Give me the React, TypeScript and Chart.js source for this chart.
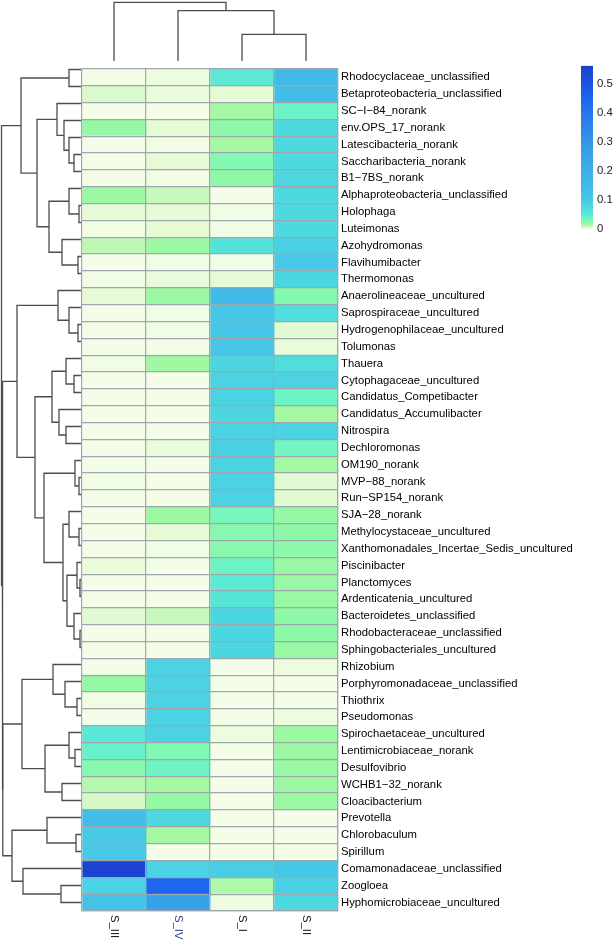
import React, { useEffect, useRef } from 'react';
import { Chart, registerables } from 'chart.js';

Chart.register(...registerables);

// ---------------- data ----------------
const rowNames = [
  'Rhodocyclaceae_unclassified', 'Betaproteobacteria_unclassified', 'SC\u2212I\u221284_norank', 'env.OPS_17_norank',
  'Latescibacteria_norank', 'Saccharibacteria_norank', 'B1\u22127BS_norank', 'Alphaproteobacteria_unclassified',
  'Holophaga', 'Luteimonas', 'Azohydromonas', 'Flavihumibacter', 'Thermomonas', 'Anaerolineaceae_uncultured',
  'Saprospiraceae_uncultured', 'Hydrogenophilaceae_uncultured', 'Tolumonas', 'Thauera', 'Cytophagaceae_uncultured',
  'Candidatus_Competibacter', 'Candidatus_Accumulibacter', 'Nitrospira', 'Dechloromonas', 'OM190_norank',
  'MVP\u221288_norank', 'Run\u2212SP154_norank', 'SJA\u221228_norank', 'Methylocystaceae_uncultured',
  'Xanthomonadales_Incertae_Sedis_uncultured', 'Piscinibacter', 'Planctomyces', 'Ardenticatenia_uncultured',
  'Bacteroidetes_unclassified', 'Rhodobacteraceae_unclassified', 'Sphingobacteriales_uncultured', 'Rhizobium',
  'Porphyromonadaceae_unclassified', 'Thiothrix', 'Pseudomonas', 'Spirochaetaceae_uncultured',
  'Lentimicrobiaceae_norank', 'Desulfovibrio', 'WCHB1\u221232_norank', 'Cloacibacterium', 'Prevotella',
  'Chlorobaculum', 'Spirillum', 'Comamonadaceae_unclassified', 'Zoogloea', 'Hyphomicrobiaceae_uncultured',
];

const colNames = ['S_III', 'S_IV', 'S_I', 'S_II'];

const valuesS_III = [
  0.000, 0.006, 0.000, 0.020, 0.000, 0.000, 0.000, 0.018, 0.004, 0.001,
  0.011, 0.000, 0.001, 0.004, 0.000, 0.000, 0.000, 0.001, 0.000, 0.000,
  0.000, 0.000, 0.000, 0.000, 0.001, 0.000, 0.000, 0.000, 0.000, 0.003,
  0.000, 0.000, 0.005, 0.000, 0.000, 0.000, 0.020, 0.001, 0.000, 0.055,
  0.042, 0.025, 0.013, 0.007, 0.140, 0.100, 0.100, 0.550, 0.085, 0.120,
];
const valuesS_IV = [
  0.002, 0.003, 0.000, 0.004, 0.001, 0.004, 0.001, 0.009, 0.004, 0.004,
  0.018, 0.001, 0.003, 0.018, 0.001, 0.001, 0.000, 0.017, 0.000, 0.000,
  0.000, 0.000, 0.003, 0.000, 0.000, 0.000, 0.018, 0.004, 0.001, 0.000,
  0.000, 0.000, 0.009, 0.000, 0.000, 0.085, 0.085, 0.085, 0.085, 0.085,
  0.028, 0.037, 0.016, 0.020, 0.075, 0.016, 0.000, 0.085, 0.450, 0.270,
];
const valuesS_I = [
  0.050, 0.004, 0.016, 0.023, 0.016, 0.027, 0.022, 0.000, 0.001, 0.001,
  0.060, 0.001, 0.004, 0.150, 0.110, 0.110, 0.115, 0.080, 0.085, 0.085,
  0.080, 0.085, 0.090, 0.085, 0.085, 0.085, 0.032, 0.025, 0.025, 0.037,
  0.050, 0.058, 0.080, 0.080, 0.080, 0.000, 0.000, 0.000, 0.000, 0.002,
  0.000, 0.000, 0.000, 0.000, 0.000, 0.000, 0.000, 0.095, 0.014, 0.002,
];
const valuesS_II = [
  0.150, 0.135, 0.040, 0.075, 0.075, 0.075, 0.077, 0.075, 0.075, 0.075,
  0.090, 0.100, 0.080, 0.026, 0.070, 0.005, 0.003, 0.070, 0.085, 0.037,
  0.016, 0.085, 0.035, 0.016, 0.005, 0.005, 0.020, 0.023, 0.023, 0.019,
  0.019, 0.019, 0.022, 0.023, 0.019, 0.002, 0.000, 0.000, 0.002, 0.018,
  0.018, 0.019, 0.018, 0.018, 0.000, 0.000, 0.000, 0.110, 0.090, 0.075,
];

const legendTicks = [0, 0.1, 0.2, 0.3, 0.4, 0.5];
const legendMax = 0.563;

// hclust-style merges: negative = leaf (-(index+1)), positive = earlier merge (1-based); third = height
const rowMerges = [
  [-1, -2, 13], [-6, -7, 8], [-5, 2, 13], [-4, 3, 18], [-3, 4, 25],
  [-9, -10, 3], [-8, 6, 13], [-12, -13, 4], [-11, 8, 20], [7, 9, 33],
  [5, 10, 45], [1, 11, 61], [-16, -17, 4], [-15, 13, 13], [-14, 14, 24],
  [-19, -20, 8], [-18, 16, 16], [-22, -23, 16], [-21, 18, 23], [17, 19, 30],
  [-25, -26, 3], [-24, 21, 7], [-28, -29, 3], [-27, 23, 13], [-31, -32, 2],
  [-30, 25, 5], [-34, -35, 2], [-33, 27, 8], [26, 28, 15], [24, 29, 19],
  [22, 30, 38], [20, 31, 47], [15, 32, 65], [-38, -39, 5], [-37, 34, 17],
  [-36, 35, 29], [-41, -42, 7], [-40, 37, 13], [-43, -44, 20], [38, 39, 37],
  [36, 40, 60], [-46, -47, 6], [-45, 42, 35], [-49, -50, 21], [-48, 44, 59],
  [43, 45, 70], [41, 46, 79.2], [33, 47, 79.7], [12, 48, 80.5],
];
const colMerges = [
  [-3, -4, 26.7], [-2, 1, 50.3], [-1, 2, 58.7],
];

// ---------------- styles ----------------
const FONT = '"Liberation Sans", Arial, Helvetica, sans-serif';
const GRID = '#9ea7ac';
const TREE = '#4d4d4d';
const paletteStops: [number, string][] = [
  [0, '#f4fde8'], [0.004, '#e6fad6'], [0.009, '#c8f8bc'], [0.016, '#a4f8a2'],
  [0.022, '#8ef8a6'], [0.028, '#80f8b4'], [0.037, '#6ef4c4'], [0.05, '#5ceAd4'],
  [0.065, '#52e0dc'], [0.08, '#4cd6e2'], [0.10, '#48cae6'], [0.14, '#42bce8'],
  [0.27, '#38a0e6'], [0.45, '#1f66ee'], [0.563, '#1a3ecc'],
];

function hexToRgb(h: string) {
  const n = parseInt(h.slice(1), 16);
  return [(n >> 16) & 255, (n >> 8) & 255, n & 255];
}
function colorFor(v: number) {
  if (v <= paletteStops[0][0]) return paletteStops[0][1];
  for (let i = 1; i < paletteStops.length; i++) {
    const [v1, c1] = paletteStops[i];
    const [v0, c0] = paletteStops[i - 1];
    if (v <= v1) {
      const t = (v - v0) / (v1 - v0);
      const a = hexToRgb(c0), b = hexToRgb(c1);
      const r = a.map((x, k) => Math.round(x + (b[k] - x) * t));
      return `rgb(${r[0]},${r[1]},${r[2]})`;
    }
  }
  return paletteStops[paletteStops.length - 1][1];
}

// build dendrogram segments from merges
function dendroSegments(merges: number[][]) {
  const pos: number[] = [];
  const hts: number[] = [];
  const segs: { a: [number, number]; b: [number, number]; h: number }[] = [];
  const info = (c: number): [number, number] => (c < 0 ? [-c - 1 + 0.5, 0] : [pos[c - 1], hts[c - 1]]);
  merges.forEach(([ca, cb, h], i) => {
    const A = info(ca);
    const B = info(cb);
    pos[i] = (A[0] + B[0]) / 2;
    hts[i] = h;
    segs.push({ a: A, b: B, h });
  });
  return segs;
}

function useChart(make: (c: HTMLCanvasElement) => Chart) {
  const ref = useRef<HTMLCanvasElement | null>(null);
  useEffect(() => {
    if (!ref.current) return;
    const ch = make(ref.current);
    return () => ch.destroy();
  }, []);
  return ref;
}

const colValues = [valuesS_III, valuesS_IV, valuesS_I, valuesS_II];

function makeHeatmap(canvas: HTMLCanvasElement) {
  const colLabelPlugin = {
    id: 'colLabels',
    afterDraw(chart: any) {
      const ctx = chart.ctx;
      const xs = chart.scales.x;
      const bottom = chart.chartArea.bottom;
      ctx.save();
      ctx.font = `11.3px ${FONT}`;
      ctx.textAlign = 'left';
      ctx.textBaseline = 'middle';
      colNames.forEach((name, ci) => {
        const x = xs.getPixelForValue(ci + 0.5);
        ctx.save();
        ctx.translate(x, bottom + 4);
        ctx.rotate(Math.PI / 2);
        ctx.fillStyle = name === 'S_IV' ? '#2a3b86' : '#111';
        ctx.fillText(name, 0, 0);
        ctx.restore();
      });
      ctx.restore();
    },
  };
  return new Chart(canvas, {
    type: 'bar',
    data: {
      labels: rowNames,
      datasets: colNames.map((name, ci) => ({
        label: name,
        data: rowNames.map(() => [ci, ci + 1]),
        backgroundColor: colValues[ci].map(colorFor),
        borderWidth: 0,
        barPercentage: 1,
        categoryPercentage: 1,
        grouped: false,
      })),
    } as any,
    options: {
      indexAxis: 'y',
      animation: false,
      responsive: false,
      maintainAspectRatio: false,
      layout: { padding: { left: 2, top: 2, right: 0, bottom: 0 } },
      plugins: { legend: { display: false }, tooltip: { enabled: false } },
      scales: {
        x: {
          type: 'linear', min: 0, max: 4, z: 1,
          ticks: { display: false, stepSize: 1 },
          grid: { color: GRID, lineWidth: 1.2, drawTicks: false, z: 1 },
          border: { display: true, color: GRID, width: 1.2, z: 1 },
          afterFit: (s: any) => { s.height = 29; },
        },
        y: {
          type: 'category', position: 'right', offset: true, z: 1,
          grid: { offset: true, color: GRID, lineWidth: 1.2, drawTicks: false, z: 1 },
          border: { display: true, color: GRID, width: 1.2, z: 1 },
          ticks: { autoSkip: false, padding: 3, color: '#000', font: { family: FONT, size: 11.3 } },
          afterFit: (s: any) => { s.width = 276; },
        },
      },
    } as any,
    plugins: [colLabelPlugin],
  });
}

function makeLeftTree(canvas: HTMLCanvasElement) {
  const segs = dendroSegments(rowMerges);
  return new Chart(canvas, {
    type: 'scatter',
    data: {
      datasets: segs.map((s) => ({
        data: [
          { x: s.a[1], y: s.a[0] }, { x: s.h, y: s.a[0] },
          { x: s.h, y: s.b[0] }, { x: s.b[1], y: s.b[0] },
        ],
        showLine: true, borderColor: TREE, borderWidth: 1.3, pointRadius: 0, fill: false, clip: false,
      })),
    } as any,
    options: {
      animation: false, responsive: false, maintainAspectRatio: false,
      layout: { padding: 0 },
      plugins: { legend: { display: false }, tooltip: { enabled: false } },
      scales: {
        x: { type: 'linear', min: 0, max: 82, reverse: true, display: false },
        y: { type: 'linear', min: 0, max: rowNames.length, reverse: true, display: false },
      },
    } as any,
  });
}

function makeTopTree(canvas: HTMLCanvasElement) {
  const segs = dendroSegments(colMerges);
  return new Chart(canvas, {
    type: 'scatter',
    data: {
      datasets: segs.map((s) => ({
        data: [
          { x: s.a[0], y: s.a[1] }, { x: s.a[0], y: s.h },
          { x: s.b[0], y: s.h }, { x: s.b[0], y: s.b[1] },
        ],
        showLine: true, borderColor: TREE, borderWidth: 1.3, pointRadius: 0, fill: false, clip: false,
      })),
    } as any,
    options: {
      animation: false, responsive: false, maintainAspectRatio: false,
      layout: { padding: 0 },
      plugins: { legend: { display: false }, tooltip: { enabled: false } },
      scales: {
        x: { type: 'linear', min: 0, max: colNames.length, display: false },
        y: { type: 'linear', min: 0, max: 61, display: false },
      },
    } as any,
  });
}

function makeLegend(canvas: HTMLCanvasElement) {
  return new Chart(canvas, {
    type: 'bar',
    data: {
      labels: [''],
      datasets: [{
        data: [[0, legendMax]],
        borderWidth: 0,
        barPercentage: 1,
        categoryPercentage: 1,
        backgroundColor: (c: any) => {
          const area = c.chart.chartArea;
          if (!area) return paletteStops[8][1];
          const yScale = c.chart.scales.y;
          const y0 = yScale.getPixelForValue(0);
          const y1 = yScale.getPixelForValue(legendMax);
          const g = c.chart.ctx.createLinearGradient(0, y0, 0, y1);
          paletteStops.forEach(([v, col]) => g.addColorStop(Math.min(1, v / legendMax), col));
          return g;
        },
      }],
    } as any,
    options: {
      animation: false, responsive: false, maintainAspectRatio: false,
      layout: { padding: { left: 2, top: 6, bottom: 8.3, right: 0 } },
      plugins: { legend: { display: false }, tooltip: { enabled: false } },
      scales: {
        x: { display: false },
        y: {
          position: 'right', min: 0, max: legendMax,
          grid: { display: false, drawTicks: false },
          border: { display: false },
          afterBuildTicks: (s: any) => { s.ticks = legendTicks.map((v) => ({ value: v })); },
          ticks: { padding: 4, color: '#222', font: { family: FONT, size: 11.3 }, callback: (v: any) => String(Math.round(v * 10) / 10) },
          afterFit: (s: any) => { s.width = 21; },
        },
      },
    } as any,
  });
}

export default function App() {
  const heatRef = useChart(makeHeatmap);
  const leftRef = useChart(makeLeftTree);
  const topRef = useChart(makeTopTree);
  const legRef = useChart(makeLegend);
  return (
    <div style={{ position: 'absolute', left: 0, top: 0, width: 614, height: 940, background: '#fff', overflow: 'hidden' }}>
      <canvas ref={topRef} width={256} height={61} style={{ position: 'absolute', left: 82, top: 0, width: 256, height: 61 }} />
      <canvas ref={leftRef} width={82} height={850} style={{ position: 'absolute', left: 0, top: 61, width: 82, height: 850 }} />
      <canvas ref={heatRef} width={534} height={881} style={{ position: 'absolute', left: 80, top: 59, width: 534, height: 881 }} />
      <canvas ref={legRef} width={35} height={185} style={{ position: 'absolute', left: 579, top: 55, width: 35, height: 185 }} />
    </div>
  );
}
